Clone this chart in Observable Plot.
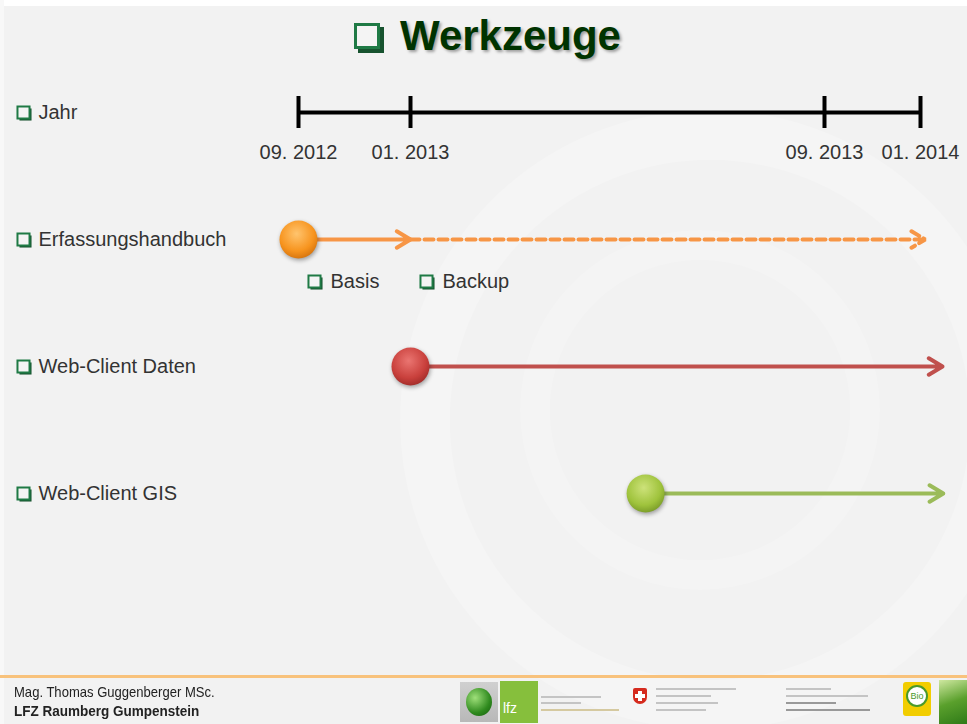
<!DOCTYPE html>
<html><head><meta charset="utf-8">
<script src="https://cdn.jsdelivr.net/npm/d3@7"></script>
<script src="https://cdn.jsdelivr.net/npm/@observablehq/plot@0.6"></script>
<style>
html,body{margin:0;padding:0;}
body{width:967px;height:724px;overflow:hidden;background:#f2f2f2;font-family:"Liberation Sans",Arial,sans-serif;position:relative;}
#topband{position:absolute;left:0;top:0;width:967px;height:6px;background:#fff;}
#leftband{position:absolute;left:0;top:0;width:4px;height:724px;background:#f8f8f8;}
#wm{position:absolute;left:400px;top:110px;width:520px;height:520px;border-radius:50%;border:50px solid rgba(255,255,255,0.22);}
#wm2{position:absolute;left:520px;top:230px;width:300px;height:300px;border-radius:50%;border:30px solid rgba(255,255,255,0.16);}
#title{position:absolute;left:0;top:0;width:967px;height:72px;}
#title .box{position:absolute;left:354px;top:23px;width:20px;height:20px;border:3px solid #1f7a45;background:#f4f4f4;box-shadow:4px 4px 0 #17532f;}
#title .txt{position:absolute;left:400px;top:15px;font-size:42px;line-height:42px;font-weight:bold;color:#003300;text-shadow:2px 2px 3px rgba(0,0,0,0.35);}
#chart{position:absolute;left:0;top:72px;}
#footer{position:absolute;left:0;top:668px;width:967px;height:56px;}
#footer .oline{position:absolute;left:0;top:7px;width:967px;height:3px;background:#f8c27c;}
#footer .t1{position:absolute;left:14px;top:15px;font-size:15px;line-height:17px;color:#222;transform:scaleX(0.87);transform-origin:0 0;}
#footer .t2{position:absolute;left:14px;top:34px;font-size:15px;line-height:17px;font-weight:bold;color:#222;transform:scaleX(0.9);transform-origin:0 0;}
.lg{position:absolute;}
.gl{position:absolute;height:2px;background:#c4c4c4;}
</style></head>
<body>
<div id="topband"></div><div id="leftband"></div>
<div id="wm"></div><div id="wm2"></div>
<div id="title"><span class="box"></span><span class="txt">Werkzeuge</span></div>
<div id="chart"></div>
<div id="footer">
  <div class="oline"></div>
  <div class="t1">Mag. Thomas Guggenberger MSc.</div>
  <div class="t2">LFZ Raumberg Gumpenstein</div>
  <div class="lg" style="left:460px;top:14px;width:38px;height:40px;background:linear-gradient(#d0d0d0,#b8b8b8);"></div>
  <div class="lg" style="left:466px;top:20px;width:26px;height:28px;border-radius:50%;background:radial-gradient(circle at 35% 35%,#9fe07a,#2f8a1e 60%,#145a0c);"></div>
  <div class="lg" style="left:500px;top:13px;width:38px;height:42px;background:#86bf3c;color:#fff;font-size:14px;line-height:14px;"><span style="position:absolute;left:3px;top:20px;">lfz</span></div>
  <div class="gl" style="left:541px;top:28px;width:60px;"></div>
  <div class="gl" style="left:541px;top:34px;width:40px;"></div>
  <div class="gl" style="left:541px;top:41px;width:78px;background:#d5c9a0;"></div>
  <div class="lg" style="left:633px;top:20px;width:14px;height:16px;background:#d52b1e;border-radius:2px 2px 7px 7px;"></div>
  <div class="lg" style="left:638px;top:23px;width:4px;height:10px;background:#fff;"></div>
  <div class="lg" style="left:635px;top:26px;width:10px;height:4px;background:#fff;"></div>
  <div class="gl" style="left:656px;top:20px;width:80px;"></div>
  <div class="gl" style="left:656px;top:27px;width:55px;"></div>
  <div class="gl" style="left:656px;top:34px;width:62px;"></div>
  <div class="gl" style="left:656px;top:41px;width:50px;"></div>
  <div class="gl" style="left:786px;top:20px;width:45px;"></div>
  <div class="gl" style="left:786px;top:27px;width:82px;"></div>
  <div class="gl" style="left:786px;top:34px;width:50px;background:#999;"></div>
  <div class="gl" style="left:786px;top:41px;width:84px;background:#999;"></div>
  <div class="lg" style="left:903px;top:14px;width:28px;height:34px;background:#f2cd00;border-radius:3px;"></div>
  <div class="lg" style="left:906px;top:17px;width:18px;height:18px;border:2px solid #4a9a2a;border-radius:50%;background:#fff;color:#4a9a2a;font-size:9px;line-height:18px;text-align:center;">Bio</div>
  <div class="lg" style="left:939px;top:12px;width:28px;height:44px;background:linear-gradient(160deg,#cfe8a0,#5aa02c 50%,#2f7a18);"></div>
</div>
<script>
// ---- data ----
const rows = ["Jahr", "Erfassungshandbuch", "Web-Client Daten", "Web-Client GIS"];
const tickDates = ["2012-09-01", "2013-01-01", "2013-09-01", "2014-01-01"];
const tickLabels = ["09. 2012", "01. 2013", "09. 2013", "01. 2014"];
const taskNames = ["Erfassungshandbuch", "Web-Client Daten", "Web-Client GIS"];
const taskStart = ["2012-09-01", "2013-01-01", "2013-05-19"];
const taskEnd = ["2014-01-07", "2014-01-29", "2014-01-30"];
const taskColors = ["#f79646", "#c0504d", "#9bbb59"];
const phaseLabels = ["Basis", "Backup"];
const phaseStart = ["2012-09-01", "2013-01-01"];
const phaseEnd = ["2013-01-01", "2014-01-07"];
const phaseDashed = [false, true];

const ticks = tickDates.map((d, i) => ({date: new Date(d), label: tickLabels[i]}));
const tasks = taskNames.map((n, i) => ({name: n, start: new Date(taskStart[i]), end: new Date(taskEnd[i]), color: taskColors[i], id: "grad" + i}));
const phases = phaseLabels.map((l, i) => ({label: l, task: taskNames[0], start: new Date(phaseStart[i]), end: new Date(phaseEnd[i]), dashed: phaseDashed[i]}));

const jahr = () => "Jahr";
const font = "'Liberation Sans', Arial, sans-serif";
const boxGreen = "#1f7a45", boxShadow = "#17532f", boxFill = "#f4f4f4";

const marks = [
  // time line
  Plot.ruleY(["Jahr"], {y: d => d, x1: () => ticks[0].date, x2: () => ticks[ticks.length - 1].date, stroke: "#000", strokeWidth: 4}),
  Plot.ruleX(ticks, {x: "date", y1: jahr, y2: jahr, insetTop: -16, insetBottom: -16, stroke: "#000", strokeWidth: 4}),
  Plot.text(ticks, {x: "date", y: jahr, text: "label", dy: 40, fontSize: 20, fill: "#333", fontFamily: font}),
  // row labels with check boxes
  Plot.dot(rows, {y: d => d, frameAnchor: "left", dx: 25, dy: 2, symbol: "square", r: 6.8, fill: boxShadow, stroke: "none"}),
  Plot.dot(rows, {y: d => d, frameAnchor: "left", dx: 23, dy: 0, symbol: "square", r: 6.8, fill: boxFill, stroke: boxGreen, strokeWidth: 2}),
  Plot.text(rows, {y: d => d, text: d => d, frameAnchor: "left", textAnchor: "start", dx: 38, fontSize: 20, fill: "#333", fontFamily: font}),
  // phases of Erfassungshandbuch
  Plot.arrow(phases.filter(d => !d.dashed), {x1: "start", x2: "end", y1: "task", y2: "task", stroke: taskColors[0], strokeWidth: 4, headLength: 6, headAngle: 62}),
  Plot.arrow(phases.filter(d => d.dashed), {x1: "start", x2: "end", y1: "task", y2: "task", stroke: taskColors[0], strokeWidth: 4, strokeDasharray: "9,5", headLength: 6, headAngle: 62}),
  Plot.dot(phases, {x: "start", y: "task", dx: 18, dy: 44, symbol: "square", r: 6.8, fill: boxShadow, stroke: "none"}),
  Plot.dot(phases, {x: "start", y: "task", dx: 16, dy: 42, symbol: "square", r: 6.8, fill: boxFill, stroke: boxGreen, strokeWidth: 2}),
  Plot.text(phases, {x: "start", y: "task", text: "label", textAnchor: "start", dx: 32, dy: 42, fontSize: 20, fill: "#333", fontFamily: font})
];
tasks.slice(1).forEach(t => {
  marks.push(Plot.arrow([t], {x1: "start", x2: "end", y1: "name", y2: "name", stroke: t.color, strokeWidth: 4, headLength: 6, headAngle: 62}));
});
tasks.forEach(t => {
  marks.push(Plot.dot([t], {x: "start", y: "name", r: 19, fill: `url(#${t.id})`, stroke: "none", imageFilter: "drop-shadow(1px 2px 2px rgba(0,0,0,0.35))"}));
});

const svg = Plot.plot({
  width: 967,
  height: 596,
  marginTop: 40,
  marginBottom: 175,
  marginLeft: 0,
  marginRight: 0,
  style: {background: "transparent", overflow: "visible"},
  x: {type: "utc", domain: ticks.map(d => d.date), range: [298, 410, 824, 920], axis: null},
  y: {type: "point", domain: rows, padding: 0, axis: null},
  marks
});

const grads = [
  ["grad0", "#ffc46e", "#f7941e", "#d9770f"],
  ["grad1", "#ea7571", "#c9403c", "#a52e2b"],
  ["grad2", "#cde27a", "#9fc33c", "#7d9f2a"]
];
const defs = d3.select(svg).insert("defs", ":first-child");
grads.forEach(([id, c0, c1, c2]) => {
  const g = defs.append("radialGradient").attr("id", id).attr("cx", "45%").attr("cy", "35%").attr("r", "65%");
  g.append("stop").attr("offset", "0%").attr("stop-color", c0);
  g.append("stop").attr("offset", "70%").attr("stop-color", c1);
  g.append("stop").attr("offset", "100%").attr("stop-color", c2);
});
document.getElementById("chart").appendChild(svg);
</script>
</body></html>
